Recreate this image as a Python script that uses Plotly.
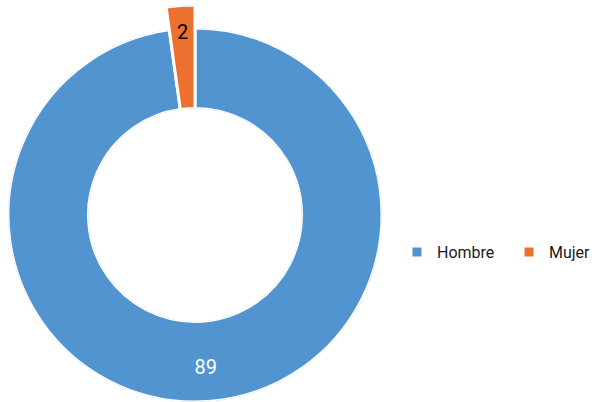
import math
import plotly.graph_objects as go

labels = ["Hombre", "Mujer"]
values = [89, 2]
colors = ["#5294CF", "#EC7030"]
label_colors = ["white", "black"]
label_pos = [0.6, 0.72]      # radial position of labels within ring (style)

total = sum(values)
widths = [v / total * 360 for v in values]
centers = []
acc = 0
for w in widths:
    centers.append(acc + w / 2)
    acc += w

# geometry (pixels) for layout only
W, H = 592, 402
CX, CY = 195, 215          # donut centre (from top-left)
R1, R2, RH = 187, 210, 106.5  # main outer radius, exploded slice outer radius, hole radius
SECT = [80, 100]           # sector holding the exploded slice (layout degrees)

half_w = R2 * math.cos(math.radians(SECT[0]))
dom1 = dict(x=[(CX - R1) / W, (CX + R1) / W], y=[(H - CY - R1) / H, (H - CY + R1) / H])
dom2 = dict(x=[(CX - half_w) / W, (CX + half_w) / W], y=[(H - CY) / H, (H - CY + R2) / H])

subplots = ["polar", "polar2"]
fig = go.Figure()
for i in range(len(labels)):
    fig.add_trace(go.Barpolar(
        r=[1], theta=[centers[i]], width=[widths[i]], base=0, subplot=subplots[i],
        name=labels[i], marker=dict(color=colors[i], line=dict(color="white", width=3)),
        hoverinfo="skip", showlegend=True,
    ))
for i in range(len(labels)):
    fig.add_trace(go.Scatterpolar(
        r=[label_pos[i]], theta=[centers[i]], mode="text", text=[str(values[i])],
        subplot=subplots[i],
        textfont=dict(size=20, color=label_colors[i], family="Roboto, Arial"),
        cliponaxis=False, showlegend=False, hoverinfo="skip",
    ))

axis_common = dict(
    bgcolor="rgba(0,0,0,0)",
    radialaxis=dict(range=[0, 1], visible=False, showgrid=False),
    angularaxis=dict(rotation=90, direction="clockwise", visible=False, showgrid=False),
)

fig.update_layout(
    width=W, height=H,
    margin=dict(l=0, r=0, t=0, b=0, autoexpand=False),
    paper_bgcolor="white",
    polar=dict(domain=dom1, hole=RH / R1, **axis_common),
    polar2=dict(domain=dom2, hole=RH / R2, sector=SECT, **axis_common),
    showlegend=True,
    legend=dict(orientation="h", x=397 / W, y=(H - 252) / H, xanchor="left", yanchor="middle",
                font=dict(size=16, family="Roboto, Arial", color="#1a1a1a"),
                entrywidth=67, bgcolor="rgba(0,0,0,0)", borderwidth=0),
    bargap=0,
)

fig.write_html("out.html")
